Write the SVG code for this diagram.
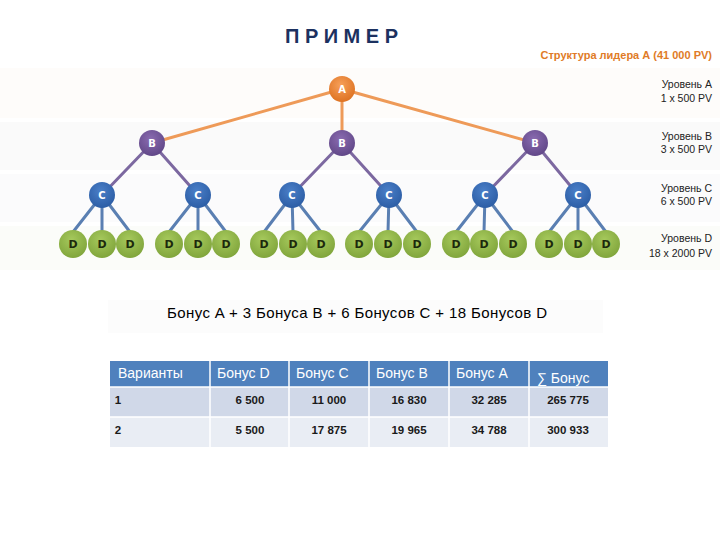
<svg xmlns="http://www.w3.org/2000/svg" width="720" height="540" viewBox="0 0 720 540">
<defs>
<radialGradient id="gA" cx="45%" cy="35%" r="70%"><stop offset="0" stop-color="#f7a05a"/><stop offset="1" stop-color="#dc6f1e"/></radialGradient>
<radialGradient id="gB" cx="45%" cy="35%" r="70%"><stop offset="0" stop-color="#8a6bb0"/><stop offset="1" stop-color="#5e4585"/></radialGradient>
<radialGradient id="gC" cx="45%" cy="35%" r="70%"><stop offset="0" stop-color="#4a7fc8"/><stop offset="1" stop-color="#2a5ba3"/></radialGradient>
<radialGradient id="gD" cx="45%" cy="35%" r="70%"><stop offset="0" stop-color="#a6c95c"/><stop offset="1" stop-color="#7ea33a"/></radialGradient>
</defs>
<style>
.lbl{font-family:"Liberation Sans",Arial,sans-serif;font-size:10.5px;fill:#222;text-anchor:end}
.nt{font-family:"DejaVu Sans",sans-serif;font-size:10px;font-weight:bold;fill:#fff;text-anchor:middle}
.dt{font-family:"DejaVu Sans",sans-serif;font-size:11px;font-weight:bold;fill:#1c2a0c;text-anchor:middle}
.eA{stroke:#ee9a58;stroke-width:3;fill:none}
.eB{stroke:#7c68a0;stroke-width:3;fill:none}
.eC{stroke:#5a7fb2;stroke-width:3;fill:none}
.th{font-family:"Liberation Sans",Arial,sans-serif;font-size:14px;fill:#fff}
.td{font-family:"Liberation Sans",Arial,sans-serif;font-size:11.5px;font-weight:bold;fill:#1a1a1a;text-anchor:middle}
</style>
<rect width="720" height="540" fill="#fff"/>
<g id="bands">
<rect x="0" y="68" width="720" height="50" fill="#fefcfa"/>
<rect x="0" y="122" width="720" height="48" fill="#fafafa"/>
<rect x="0" y="174" width="720" height="48" fill="#fbfbfc"/>
<rect x="0" y="226" width="720" height="44" fill="#fbfcf9"/>
<rect x="108" y="300" width="495" height="33" fill="#fcfcfc"/>
</g>
<text x="285" y="43" font-family="Liberation Sans,Arial,sans-serif" font-size="20" font-weight="bold" fill="#1c3160" textLength="113">П Р И М Е Р</text>
<text x="712" y="59" text-anchor="end" font-family="Liberation Sans,Arial,sans-serif" font-size="11" font-weight="bold" fill="#e07b27">Структура лидера А (41 000 PV)</text>
<g id="levels">
<text class="lbl" x="712" y="88">Уровень A</text><text class="lbl" x="712" y="102">1 x 500 PV</text>
<text class="lbl" x="712" y="140">Уровень B</text><text class="lbl" x="712" y="153">3 x 500 PV</text>
<text class="lbl" x="712" y="192">Уровень C</text><text class="lbl" x="712" y="205">6 x 500 PV</text>
<text class="lbl" x="712" y="242">Уровень D</text><text class="lbl" x="712" y="257">18 x 2000 PV</text>
</g>
<g id="connectors">
<path class="eA" d="M342 89L152 143M342 89L342 143M342 89L535 143"/>
<path class="eB" d="M152 143L102 195M152 143L198 195M342 143L292 195M342 143L389 195M535 143L485 195M535 143L578 195"/>
<path class="eC" d="M102 195L73 232M102 195L102 232M102 195L130 232M198 195L169 232M198 195L198 232M198 195L226 232M292 195L264 232M292 195L293 232M292 195L321 232M389 195L359 232M389 195L388 232M389 195L417 232M485 195L456 232M485 195L484 232M485 195L513 232M578 195L549 232M578 195L578 232M578 195L606 232"/>
</g>
<g id="nA"><circle cx="342" cy="89" r="13" fill="url(#gA)"/><text class="nt" x="342" y="93">A</text></g>
<g id="nB1"><circle cx="152" cy="143" r="13" fill="url(#gB)"/><text class="nt" x="152" y="147">B</text></g>
<g id="nB2"><circle cx="342" cy="143" r="13" fill="url(#gB)"/><text class="nt" x="342" y="147">B</text></g>
<g id="nB3"><circle cx="535" cy="143" r="13" fill="url(#gB)"/><text class="nt" x="535" y="147">B</text></g>
<g id="nC1"><circle cx="102" cy="195" r="13" fill="url(#gC)"/><text class="nt" x="102" y="199">C</text></g>
<g id="nC2"><circle cx="198" cy="195" r="13" fill="url(#gC)"/><text class="nt" x="198" y="199">C</text></g>
<g id="nC3"><circle cx="292" cy="195" r="13" fill="url(#gC)"/><text class="nt" x="292" y="199">C</text></g>
<g id="nC4"><circle cx="389" cy="195" r="13" fill="url(#gC)"/><text class="nt" x="389" y="199">C</text></g>
<g id="nC5"><circle cx="485" cy="195" r="13" fill="url(#gC)"/><text class="nt" x="485" y="199">C</text></g>
<g id="nC6"><circle cx="578" cy="195" r="13" fill="url(#gC)"/><text class="nt" x="578" y="199">C</text></g>
<g id="nD1"><circle cx="73" cy="244" r="14" fill="url(#gD)"/><text class="dt" x="73" y="248">D</text></g>
<g id="nD2"><circle cx="102" cy="244" r="14" fill="url(#gD)"/><text class="dt" x="102" y="248">D</text></g>
<g id="nD3"><circle cx="130" cy="244" r="14" fill="url(#gD)"/><text class="dt" x="130" y="248">D</text></g>
<g id="nD4"><circle cx="169" cy="244" r="14" fill="url(#gD)"/><text class="dt" x="169" y="248">D</text></g>
<g id="nD5"><circle cx="198" cy="244" r="14" fill="url(#gD)"/><text class="dt" x="198" y="248">D</text></g>
<g id="nD6"><circle cx="226" cy="244" r="14" fill="url(#gD)"/><text class="dt" x="226" y="248">D</text></g>
<g id="nD7"><circle cx="264" cy="244" r="14" fill="url(#gD)"/><text class="dt" x="264" y="248">D</text></g>
<g id="nD8"><circle cx="293" cy="244" r="14" fill="url(#gD)"/><text class="dt" x="293" y="248">D</text></g>
<g id="nD9"><circle cx="321" cy="244" r="14" fill="url(#gD)"/><text class="dt" x="321" y="248">D</text></g>
<g id="nD10"><circle cx="359" cy="244" r="14" fill="url(#gD)"/><text class="dt" x="359" y="248">D</text></g>
<g id="nD11"><circle cx="388" cy="244" r="14" fill="url(#gD)"/><text class="dt" x="388" y="248">D</text></g>
<g id="nD12"><circle cx="417" cy="244" r="14" fill="url(#gD)"/><text class="dt" x="417" y="248">D</text></g>
<g id="nD13"><circle cx="456" cy="244" r="14" fill="url(#gD)"/><text class="dt" x="456" y="248">D</text></g>
<g id="nD14"><circle cx="484" cy="244" r="14" fill="url(#gD)"/><text class="dt" x="484" y="248">D</text></g>
<g id="nD15"><circle cx="513" cy="244" r="14" fill="url(#gD)"/><text class="dt" x="513" y="248">D</text></g>
<g id="nD16"><circle cx="549" cy="244" r="14" fill="url(#gD)"/><text class="dt" x="549" y="248">D</text></g>
<g id="nD17"><circle cx="578" cy="244" r="14" fill="url(#gD)"/><text class="dt" x="578" y="248">D</text></g>
<g id="nD18"><circle cx="606" cy="244" r="14" fill="url(#gD)"/><text class="dt" x="606" y="248">D</text></g>
<text x="167" y="318" font-family="Liberation Sans,Arial,sans-serif" font-size="15" fill="#000" textLength="380">Бонус A + 3 Бонуса B + 6 Бонусов C + 18 Бонусов D</text>
<g id="table">
<rect x="110" y="361" width="498" height="26" fill="#4f81bd"/>
<rect x="110" y="387" width="498" height="30" fill="#d0d8e8"/>
<rect x="110" y="417" width="498" height="30" fill="#e9edf4"/>
<path d="M210 361V447M289 361V447M369 361V447M449 361V447M529 361V447M110 387H608M110 417H608" stroke="#fff" stroke-width="1.5"/>
<text class="th" x="118" y="378">Варианты</text>
<text class="th" x="217" y="378">Бонус D</text>
<text class="th" x="296" y="378">Бонус C</text>
<text class="th" x="376" y="378">Бонус B</text>
<text class="th" x="456" y="378">Бонус A</text>
<text class="th" x="537" y="383">∑ Бонус</text>
<text class="td" x="118" y="404" text-anchor="start">1</text>
<text class="td" x="250" y="404">6 500</text>
<text class="td" x="329" y="404">11 000</text>
<text class="td" x="409" y="404">16 830</text>
<text class="td" x="489" y="404">32 285</text>
<text class="td" x="568" y="404">265 775</text>
<text class="td" x="118" y="434" text-anchor="start">2</text>
<text class="td" x="250" y="434">5 500</text>
<text class="td" x="329" y="434">17 875</text>
<text class="td" x="409" y="434">19 965</text>
<text class="td" x="489" y="434">34 788</text>
<text class="td" x="568" y="434">300 933</text>
</g>
</svg>
